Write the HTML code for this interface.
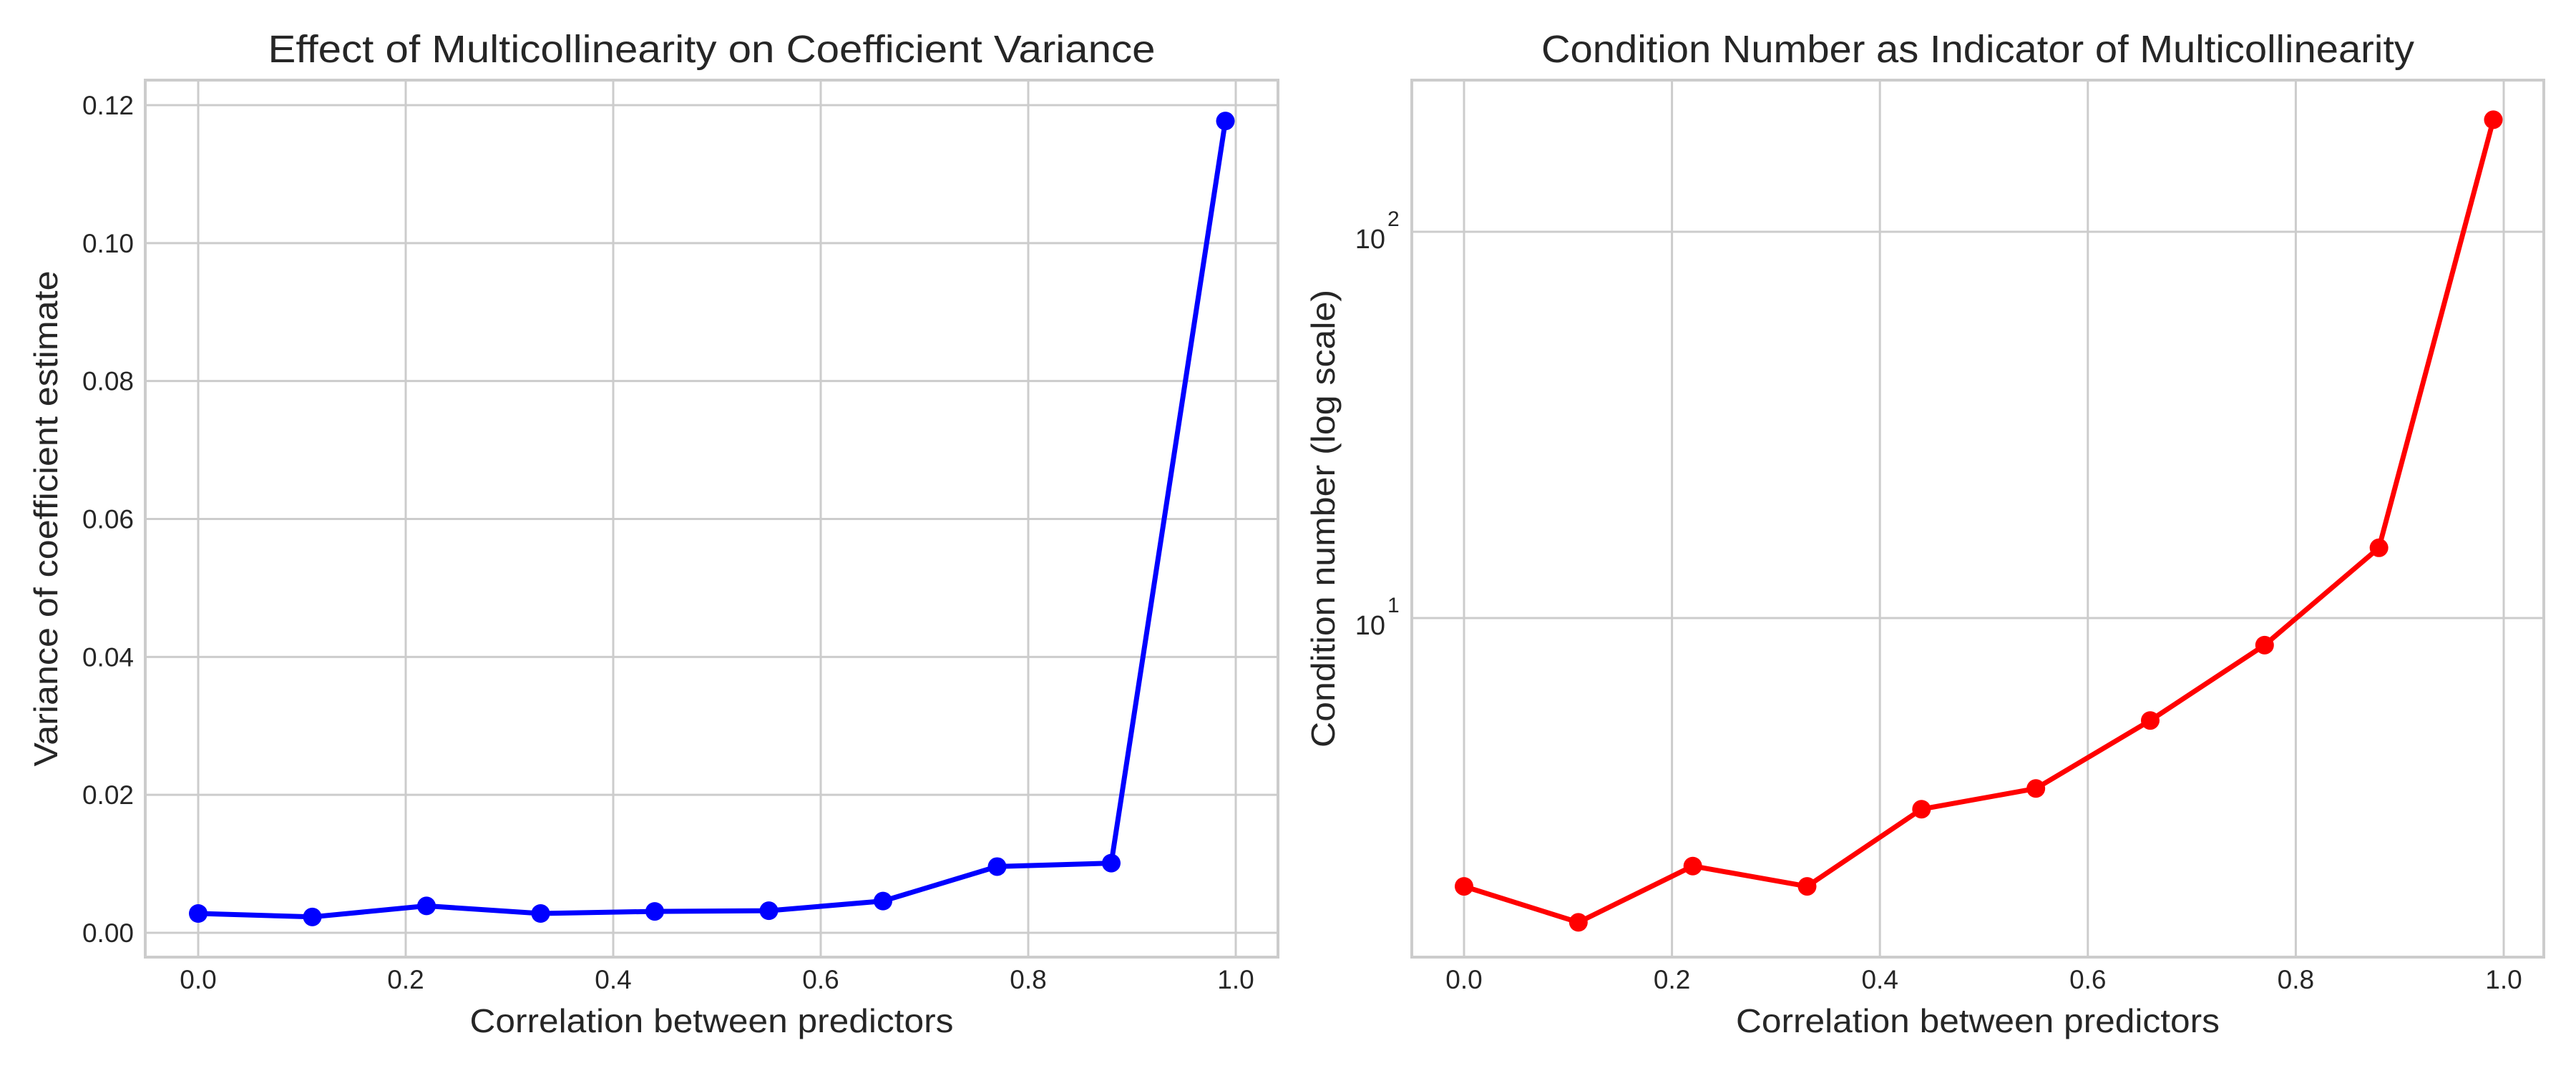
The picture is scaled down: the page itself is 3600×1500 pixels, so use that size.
<!DOCTYPE html>
<html><head><meta charset="utf-8"><style>
html,body{margin:0;padding:0;background:#fff;}
svg{display:block;font-family:"Liberation Sans",Arial,sans-serif;}
</style></head><body>
<svg id="fig" width="3600" height="1500" viewBox="0 0 3600 1500">
<g id="left"></g>
<g id="right"></g>
</svg>
<script>
const correlations = [0, 0.11, 0.22, 0.33, 0.44, 0.55, 0.66, 0.77, 0.88, 0.99];
const varianceValues = [0.0028, 0.0023, 0.0039, 0.0028, 0.0031, 0.0032, 0.0046, 0.0096, 0.0101, 0.1177];
const conditionValues = [2.02, 1.63, 2.28, 2.02, 3.20, 3.62, 5.43, 8.51, 15.2, 195];
const xTicks = [0, 0.2, 0.4, 0.6, 0.8, 1.0];
const xTickLabels = ["0.0", "0.2", "0.4", "0.6", "0.8", "1.0"];
const leftYTicks = [0, 0.02, 0.04, 0.06, 0.08, 0.10, 0.12];
const leftYTickLabels = ["0.00", "0.02", "0.04", "0.06", "0.08", "0.10", "0.12"];
const rightYTicks = [10, 100];
const rightYExponents = ["1", "2"];

const NS = "http://www.w3.org/2000/svg";
function mk(parent, tag, attrs, text) {
  const e = document.createElementNS(NS, tag);
  for (const k in attrs) e.setAttribute(k, attrs[k]);
  if (text !== undefined) e.textContent = text;
  parent.appendChild(e);
  return e;
}
const GRID = "#cccccc", TXT = "#262626";

function drawPanel(g, cfg) {
  const {L, R, T, B, sx, sy, color, vals, title, ylabel, ylabelX, titleLen} = cfg;
  xTicks.forEach((t, i) => {
    const x = sx(t);
    const gl = mk(g, "line", {x1: x, x2: x, y1: T, y2: B, stroke: GRID, "stroke-width": 3});
    
    
    const tl = mk(g, "text", {x: x, y: 1382, "font-size": 37, fill: TXT, "text-anchor": "middle"}, xTickLabels[i]);
    
    
  });
  cfg.yTicks(g);
  const fr = mk(g, "rect", {x: L, y: T, width: R - L, height: B - T, fill: "none", stroke: GRID, "stroke-width": 4});
  
  
  const pts = correlations.map((c, i) => sx(c).toFixed(1) + "," + sy(vals[i]).toFixed(1)).join(" ");
  const pl = mk(g, "polyline", {points: pts, fill: "none", stroke: color, "stroke-width": 7, "stroke-linejoin": "round"});
  
  
  correlations.forEach((c, i) => {
    const m = mk(g, "circle", {cx: sx(c), cy: sy(vals[i]), r: 13, fill: color});
    
    
  });
  const tt = mk(g, "text", {x: (L + R) / 2, y: 87, "font-size": 54, fill: TXT, "text-anchor": "middle", textLength: titleLen, lengthAdjust: "spacingAndGlyphs"}, title);
  
  
  const xl = mk(g, "text", {x: (L + R) / 2, y: 1443, "font-size": 46, fill: TXT, "text-anchor": "middle", textLength: 676, lengthAdjust: "spacingAndGlyphs"}, "Correlation between predictors");
  
  
  const yl = mk(g, "text", {x: 0, y: 0, "font-size": 46, fill: TXT, "text-anchor": "middle", transform: `translate(${ylabelX},${(T + B) / 2}) rotate(-90)`, textLength: cfg.ylabelLen, lengthAdjust: "spacingAndGlyphs"}, ylabel);
  
  
}

const lsx = v => 277 + v * 1450;
const lsy = v => 1304 - v * 9641.7;
drawPanel(document.getElementById("left"), {
  L: 203, R: 1786, T: 112, B: 1338, sx: lsx, sy: lsy, color: "#0000ff", vals: varianceValues,
  title: "Effect of Multicollinearity on Coefficient Variance", titleLen: 1240,
  ylabel: "Variance of coefficient estimate", ylabelX: 80, ylabelLen: 693,
  yTicks: g => leftYTicks.forEach((t, i) => {
    const y = lsy(t);
    const gl = mk(g, "line", {x1: 203, x2: 1786, y1: y, y2: y, stroke: GRID, "stroke-width": 3});
    
    
    const tl = mk(g, "text", {x: 187, y: y + 13, "font-size": 37, fill: TXT, "text-anchor": "end"}, leftYTickLabels[i]);
    
    
  })
});

const rsx = v => 2046 + v * 1453;
const rsy = v => 324 - (Math.log10(v) - 2) * 540;
drawPanel(document.getElementById("right"), {
  L: 1973, R: 3555, T: 112, B: 1338, sx: rsx, sy: rsy, color: "#ff0000", vals: conditionValues,
  title: "Condition Number as Indicator of Multicollinearity", titleLen: 1220,
  ylabel: "Condition number (log scale)", ylabelX: 1865, ylabelLen: 640,
  yTicks: g => rightYTicks.forEach((t, i) => {
    const y = rsy(t);
    const gl = mk(g, "line", {x1: 1973, x2: 3555, y1: y, y2: y, stroke: GRID, "stroke-width": 3});
    
    
    const tl = mk(g, "text", {x: 1936, y: y + 23, "font-size": 38, fill: TXT, "text-anchor": "end"}, "10");
    
    
    const sp = mk(g, "text", {x: 1939, y: y - 8, "font-size": 30, fill: TXT, "text-anchor": "start"}, rightYExponents[i]);
    
    
  })
});
</script>
</body></html>
